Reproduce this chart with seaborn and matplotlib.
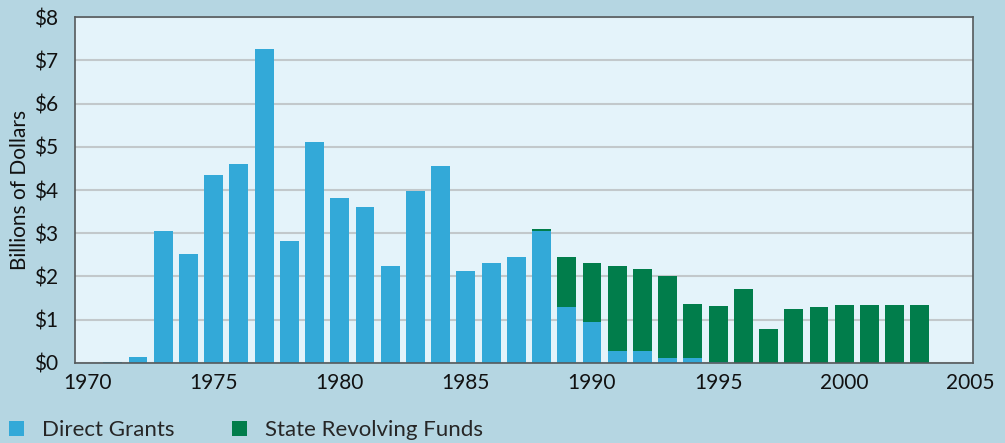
import numpy as np
import pandas as pd
import matplotlib
matplotlib.use("Agg")
import matplotlib.pyplot as plt
from matplotlib.patches import Patch
import seaborn as sns

years = list(range(1970, 2004))
direct_grants = [0.00, 0.02, 0.14, 3.05, 2.52, 4.35, 4.60, 7.26, 2.83, 5.11,
                 3.81, 3.61, 2.24, 3.98, 4.55, 2.13, 2.31, 2.45, 3.05, 1.29,
                 0.95, 0.28, 0.28, 0.12, 0.12, 0.02, 0.00, 0.00, 0.00, 0.00,
                 0.00, 0.00, 0.00, 0.00]
state_revolving = [0.00, 0.00, 0.00, 0.00, 0.00, 0.00, 0.00, 0.00, 0.00, 0.00,
                   0.00, 0.00, 0.00, 0.00, 0.00, 0.00, 0.00, 0.00, 0.05, 1.16,
                   1.36, 1.96, 1.89, 1.89, 1.24, 1.30, 1.71, 0.79, 1.25, 1.29,
                   1.34, 1.34, 1.34, 1.34]
y_ticks = [0, 1, 2, 3, 4, 5, 6, 7, 8]
y_labels = ["$0", "$1", "$2", "$3", "$4", "$5", "$6", "$7", "$8"]
x_ticks = [1970, 1975, 1980, 1985, 1990, 1995, 2000, 2005]
series_names = ["Direct Grants", "State Revolving Funds"]

BLUE = "#33a9d8"
GREEN = "#017d4b"
PAGE = "#b5d6e2"
PANEL = "#e4f3fa"
FS = 15
LEGEND_FS = 16

df = pd.DataFrame({"year": years, "direct": direct_grants, "srf": state_revolving})
df["total"] = df["direct"] + df["srf"]

sns.set_theme(style="white")
plt.rcParams["font.family"] = ["Lato", "DejaVu Sans"]

fig = plt.figure(figsize=(10.05, 4.43), dpi=100, facecolor=PAGE)
ax = fig.add_axes([0.0746, 0.1806, 0.8934, 0.781])
ax.set_facecolor(PANEL)

# Stacked bars: the full height in green, the direct-grant share over it in blue
sns.barplot(data=df, x="year", y="total", native_scale=True, width=0.75,
            color=GREEN, saturation=1, linewidth=0, ax=ax, zorder=3)
sns.barplot(data=df, x="year", y="direct", native_scale=True, width=0.75,
            color=BLUE, saturation=1, linewidth=0, ax=ax, zorder=4)

ax.set_xlim(1969.5, 2005.1)
ax.set_ylim(0, 8)
ax.set_yticks(y_ticks)
ax.set_yticklabels(y_labels)
ax.set_xticks(x_ticks)
ax.set_xticklabels([str(t) for t in x_ticks])
ax.tick_params(axis="both", length=0, labelsize=FS, colors="#111111")
ax.tick_params(axis="y", pad=12)
ax.tick_params(axis="x", pad=7)
ax.set_xlabel("")
ax.set_ylabel("Billions of Dollars", fontsize=FS, color="#111111", labelpad=3)

ax.yaxis.grid(True, color="#c2c8cb", linewidth=1.5, zorder=1)
ax.xaxis.grid(False)
ax.set_axisbelow(True)
for side in ["left", "bottom", "top", "right"]:
    ax.spines[side].set_visible(True)
    ax.spines[side].set_color("#555a5c")
    ax.spines[side].set_linewidth(1.2)
    ax.spines[side].set_zorder(5)

handles = [Patch(facecolor=BLUE, edgecolor="none"),
           Patch(facecolor=GREEN, edgecolor="none")]
fig.legend(handles, series_names, loc="lower left", bbox_to_anchor=(0.0, -0.014),
           ncol=2, frameon=False, fontsize=LEGEND_FS, handlelength=0.68,
           handleheight=0.68, handletextpad=0.81, columnspacing=2.6,
           borderaxespad=0.0, borderpad=0.4)

fig.savefig("out.png", dpi=100, facecolor=PAGE)
